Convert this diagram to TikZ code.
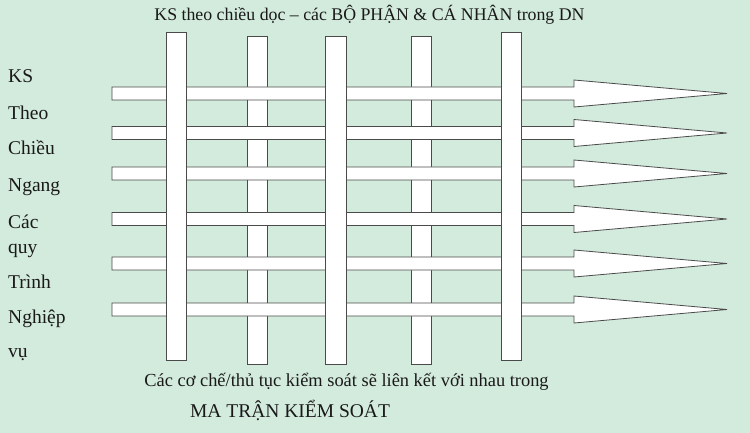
\documentclass[tikz,border=0pt]{standalone}
\usepackage{fontspec}
\setmainfont{Liberation Serif}
\definecolor{bgmint}{HTML}{D3EBDD}
\definecolor{edgegray}{HTML}{4A4A4A}
\begin{document}
\begin{tikzpicture}[x=1pt,y=-1pt,
  barbox/.style={fill=white,draw=edgegray,line width=0.8pt},
  lbl/.style={anchor=base west,inner sep=0pt,font=\fontsize{19.5}{22}\selectfont,text=black!90},
  ctr/.style={anchor=base,inner sep=0pt,text=black!90}]
\useasboundingbox (0,0) rectangle (750,433);
\fill[bgmint] (0,0) rectangle (750,433);
% vertical bars beneath the arrows
\draw[barbox] (247,36) rectangle (267,364);
\draw[barbox] (411,36) rectangle (431,364);
% horizontal arrows
\foreach \c in {93.5,133,173.5,219,263.5,309.5}{
  \draw[barbox,line join=miter] (112,\c-6.5) -- (574,\c-6.5) -- (574,\c-13.5) -- (727,\c)
    -- (574,\c+13.5) -- (574,\c+6.5) -- (112,\c+6.5) -- cycle;
}
% vertical bars on top
\draw[barbox] (166,32) rectangle (186,360);
\draw[barbox] (325,36) rectangle (346,364);
\draw[barbox] (501,32) rectangle (521,360);
% texts
\node[ctr,font=\fontsize{17.8}{21}\selectfont] (title) at (369.5,21) {KS theo chiều dọc – các BỘ PHẬN \& CÁ NHÂN trong DN};
\node[lbl] (l1) at (8,83) {KS};
\node[lbl] (l2) at (8,120) {Theo};
\node[lbl] (l3) at (8,155) {Chiều};
\node[lbl] (l4) at (8,191) {Ngang};
\node[lbl] (l5) at (8,228) {Các};
\node[lbl] (l6) at (8,253) {quy};
\node[lbl] (l7) at (8,288) {Trình};
\node[lbl] (l8) at (8,323) {Nghiệp};
\node[lbl] (l9) at (8,357) {vụ};
\node[ctr,font=\fontsize{18.4}{21}\selectfont] (b1) at (346.5,386) {Các cơ chế/thủ tục kiểm soát sẽ liên kết với nhau trong};
\node[ctr,font=\fontsize{19.5}{22}\selectfont] (b2) at (290,417) {MA TRẬN KIỂM SOÁT};
\end{tikzpicture}
\end{document}
